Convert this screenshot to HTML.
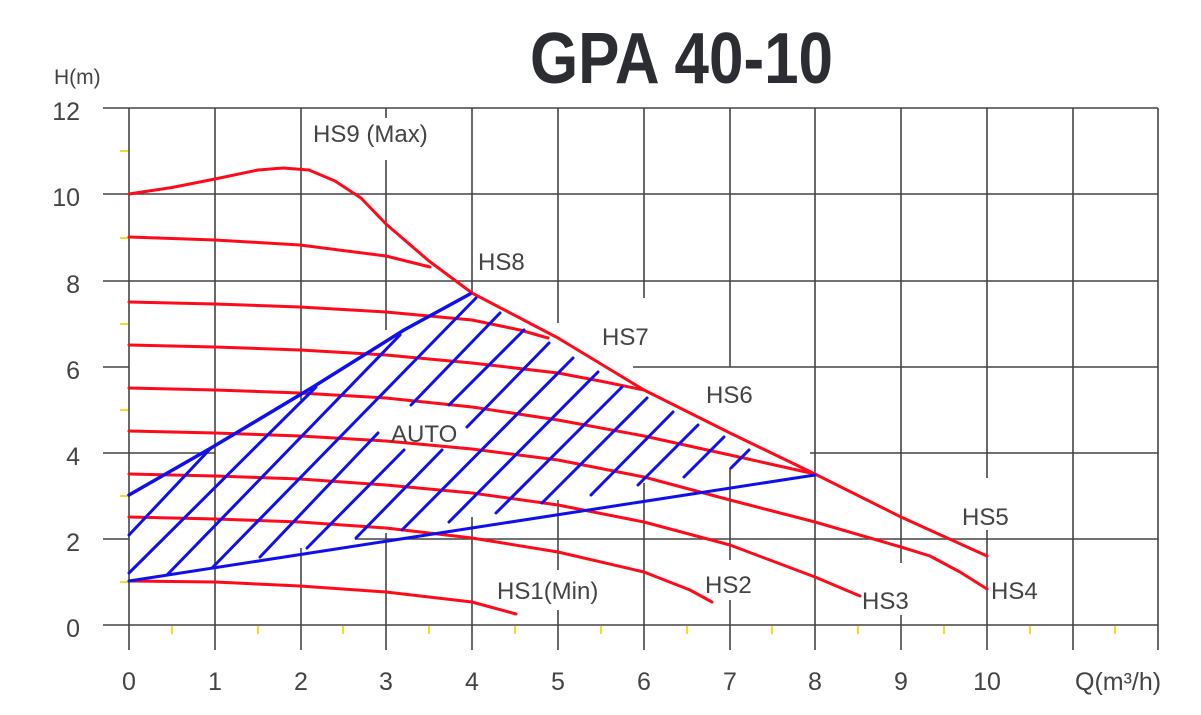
<!DOCTYPE html>
<html><head><meta charset="utf-8"><style>html,body{margin:0;padding:0;background:#fff}svg{display:block}</style></head>
<body>
<svg width="1201" height="715" viewBox="0 0 1201 715" xmlns="http://www.w3.org/2000/svg" font-family="Liberation Sans, sans-serif">
<rect width="1201" height="715" fill="#fff"/>
<text x="530" y="83" font-size="72" font-weight="bold" fill="#2b2d33" textLength="303" lengthAdjust="spacingAndGlyphs">GPA 40-10</text>
<!-- grid -->
<g stroke="#444" stroke-width="1.6" fill="none">
<line x1="103" y1="108" x2="1158" y2="108"/>
<line x1="103" y1="194" x2="1158" y2="194"/>
<line x1="103" y1="281" x2="1158" y2="281"/>
<line x1="103" y1="367" x2="129" y2="367"/><line x1="633" y1="367" x2="1158" y2="367"/>
<line x1="103" y1="453" x2="215" y2="453"/><line x1="810" y1="453" x2="1158" y2="453"/>
<line x1="103" y1="539" x2="129" y2="539"/><line x1="355" y1="539" x2="1158" y2="539"/>
<line x1="103" y1="625" x2="1158" y2="625"/>
<line x1="129" y1="108" x2="129" y2="650"/>
<line x1="215" y1="108" x2="215" y2="650"/>
<line x1="301" y1="108" x2="301" y2="400"/><line x1="301" y1="548" x2="301" y2="650"/>
<line x1="386" y1="108" x2="386" y2="118"/><line x1="386" y1="160" x2="386" y2="330"/><line x1="386" y1="533" x2="386" y2="650"/>
<line x1="472" y1="108" x2="472" y2="293"/><line x1="472" y1="517" x2="472" y2="650"/>
<line x1="558" y1="108" x2="558" y2="323"/><line x1="558" y1="500" x2="558" y2="570"/><line x1="558" y1="610" x2="558" y2="650"/>
<line x1="644" y1="108" x2="644" y2="298"/><line x1="644" y1="483" x2="644" y2="650"/>
<line x1="730" y1="108" x2="730" y2="367"/><line x1="730" y1="468" x2="730" y2="560"/><line x1="730" y1="600" x2="730" y2="650"/>
<line x1="815" y1="108" x2="815" y2="650"/>
<line x1="901" y1="108" x2="901" y2="563"/><line x1="901" y1="615" x2="901" y2="650"/>
<line x1="987" y1="108" x2="987" y2="478"/><line x1="987" y1="530" x2="987" y2="650"/>
<line x1="1073" y1="108" x2="1073" y2="650"/>
<line x1="1158" y1="108" x2="1158" y2="650"/>
</g>
<!-- yellow ticks -->
<g stroke="#f0e020" stroke-width="2">
<line x1="120" y1="151" x2="128" y2="151"/><line x1="120" y1="238" x2="128" y2="238"/><line x1="120" y1="324" x2="128" y2="324"/>
<line x1="120" y1="410" x2="128" y2="410"/><line x1="120" y1="496" x2="128" y2="496"/><line x1="120" y1="582" x2="128" y2="582"/>
<line x1="172" y1="626" x2="172" y2="634"/><line x1="258" y1="626" x2="258" y2="634"/><line x1="343" y1="626" x2="343" y2="634"/>
<line x1="429" y1="626" x2="429" y2="634"/><line x1="515" y1="626" x2="515" y2="634"/><line x1="601" y1="626" x2="601" y2="634"/>
<line x1="687" y1="626" x2="687" y2="634"/><line x1="772" y1="626" x2="772" y2="634"/><line x1="858" y1="626" x2="858" y2="634"/>
<line x1="944" y1="626" x2="944" y2="634"/><line x1="1030" y1="626" x2="1030" y2="634"/><line x1="1115" y1="626" x2="1115" y2="634"/>
</g>
<!-- axis labels -->
<g font-size="25" fill="#444" text-anchor="end">
<text x="80" y="120">12</text><text x="80" y="206">10</text><text x="80" y="293">8</text><text x="80" y="379">6</text>
<text x="80" y="465">4</text><text x="80" y="551">2</text><text x="80" y="637">0</text>
</g>
<g font-size="25" fill="#444" text-anchor="middle">
<text x="129" y="690">0</text><text x="215" y="690">1</text><text x="301" y="690">2</text><text x="386" y="690">3</text>
<text x="472" y="690">4</text><text x="558" y="690">5</text><text x="644" y="690">6</text><text x="730" y="690">7</text>
<text x="815" y="690">8</text><text x="901" y="690">9</text><text x="987" y="690">10</text>
</g>
<text x="1075" y="690" font-size="25" fill="#444">Q(m³/h)</text>
<text x="54" y="84" font-size="21" fill="#444">H(m)</text>
<!-- red curves -->
<g stroke="#ff0a1a" stroke-width="3" fill="none" stroke-linejoin="round" stroke-linecap="round">
<polyline points="129,194 172,187.5 215,179 258,170 283,168 309,170 335,181 361,198 386,224 429,261 472,293 558,338 644,390 730,433 815,474 901,517 987,556"/>
<polyline points="129,237 215,240 300,245 386,256 430,267"/>
<polyline points="129,302 215,304 300,307 386,312 472,320 520,330 548,338"/>
<polyline points="129,345 215,347 300,350 386,355 472,363 558,373 600,381 644,390"/>
<polyline points="129,388 215,390 300,393 386,398 472,407 558,420 644,436 730,455 815,474"/>
<polyline points="129,431 215,433 300,436 386,441 472,449 558,460 644,477 730,500 815,522 901,547 930,556 960,572 987,589"/>
<polyline points="129,474 215,476 300,479 386,485 472,493 558,505 644,522 730,545 815,577 860,596"/>
<polyline points="129,517 215,519 300,522 386,528 472,538 558,552 644,572 690,590 712,602"/>
<polyline points="129,581 215,582 300,586 386,592 472,602 516,614"/>
</g>
<!-- blue -->
<g stroke="#1010ee" stroke-width="3" fill="none" stroke-linecap="round">
<polyline points="129,495 211,448 313,387 404,330 470,294" stroke-width="3.5"/>
<line x1="129" y1="581" x2="815" y2="475"/>
<line x1="129" y1="535" x2="211" y2="448"/>
<line x1="129" y1="573" x2="316" y2="387"/>
<line x1="167" y1="575" x2="400" y2="335"/>
<line x1="213" y1="567" x2="476" y2="298"/>
<line x1="260" y1="557" x2="378" y2="433"/>
<line x1="411" y1="405" x2="500" y2="313"/>
<line x1="307" y1="548" x2="404" y2="450"/>
<line x1="449" y1="405" x2="524" y2="330"/>
<line x1="356" y1="538" x2="442" y2="450"/>
<line x1="467" y1="427" x2="549" y2="343"/>
<line x1="402" y1="530" x2="573" y2="358"/>
<line x1="449" y1="522" x2="598" y2="372"/>
<line x1="496" y1="513" x2="622" y2="387"/>
<line x1="542" y1="503" x2="647" y2="398"/>
<line x1="591" y1="495" x2="673" y2="412"/>
<line x1="638" y1="485" x2="698" y2="425"/>
<line x1="684" y1="477" x2="724" y2="437"/>
<line x1="731" y1="468" x2="749" y2="450"/>
</g>
<!-- curve labels -->
<g font-size="24" fill="#444">
<text x="313" y="142">HS9 (Max)</text>
<text x="478" y="270">HS8</text>
<text x="602" y="345">HS7</text>
<text x="706" y="403">HS6</text>
<text x="391" y="442">AUTO</text>
<text x="962" y="525">HS5</text>
<text x="991" y="599">HS4</text>
<text x="862" y="609">HS3</text>
<text x="705" y="593">HS2</text>
<text x="497" y="599">HS1(Min)</text>
</g>
</svg>
</body></html>
